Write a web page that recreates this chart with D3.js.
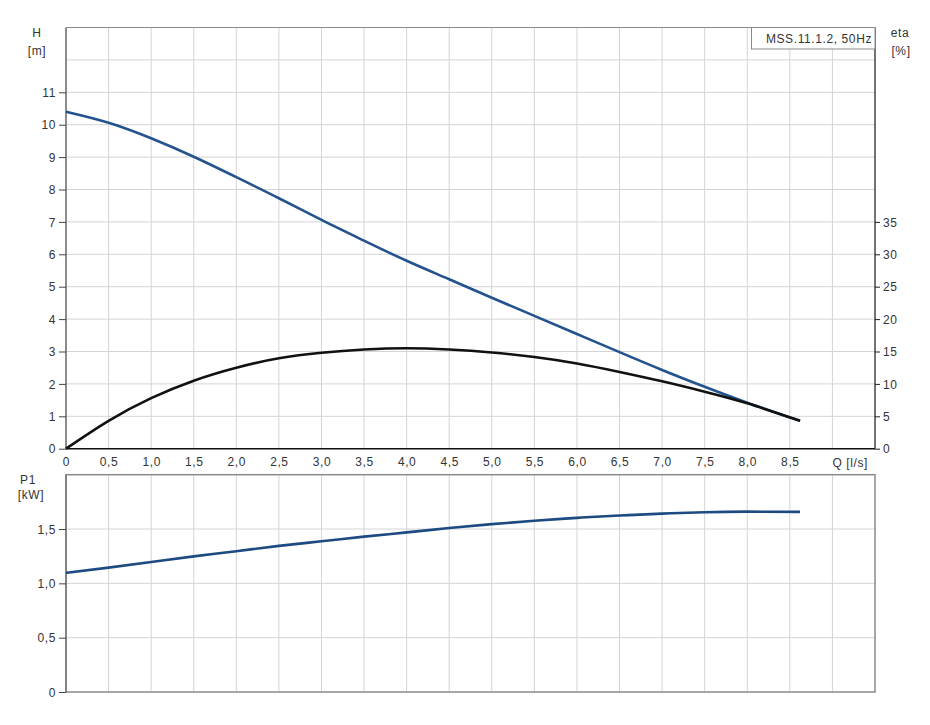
<!DOCTYPE html>
<html><head><meta charset="utf-8">
<script src="https://cdn.jsdelivr.net/npm/d3@7"></script>
<style>
html,body{margin:0;padding:0;background:#fff;}
svg text{font-family:"Liberation Sans",Arial,sans-serif;font-size:12px;fill:#333;letter-spacing:0.6px;}
</style></head><body>
<svg id="c" width="930" height="725"></svg>
<script>
// Data
const flowQ   = [0,0.5,1,1.5,2,2.5,3,3.5,4,4.5,5,5.5,6,6.5,7,7.5,8,8.62];
const headH   = [10.40,10.06,9.58,9.01,8.38,7.73,7.06,6.42,5.80,5.23,4.66,4.10,3.54,2.98,2.43,1.91,1.42,0.86];
const etaPct  = [0,4.3,7.8,10.5,12.5,13.95,14.8,15.3,15.5,15.3,14.85,14.15,13.15,11.85,10.4,8.8,7.0,4.3];
const powerP1 = [1.096,1.145,1.196,1.248,1.296,1.345,1.387,1.43,1.469,1.509,1.545,1.576,1.603,1.624,1.642,1.655,1.66,1.658];
const qTicks  = [0,0.5,1,1.5,2,2.5,3,3.5,4,4.5,5,5.5,6,6.5,7,7.5,8,8.5];
const qTickLabels = ["0","0,5","1,0","1,5","2,0","2,5","3,0","3,5","4,0","4,5","5,0","5,5","6,0","6,5","7,0","7,5","8,0","8,5"];
const hTicks  = [0,1,2,3,4,5,6,7,8,9,10,11];
const etaTicks = [0,5,10,15,20,25,30,35];
const p1Ticks = [0,0.5,1.0,1.5];
const p1TickLabels = ["0","0,5","1,0","1,5"];
const title = "MSS.11.1.2, 50Hz";

const svg = d3.select("#c");
const L = 66, R = 875;
const x = d3.scaleLinear().domain([0,9.5]).range([L,R]);
const yH = d3.scaleLinear().domain([0,13]).range([448.7,27.5]);
const yE = d3.scaleLinear().domain([0,65]).range([448.7,27.5]);
const yP = d3.scaleLinear().domain([0,2]).range([692,474.7]);

const gridX = d3.range(1,19).map(i=>i*0.5);
const gridCol = "#d4d4d4";

// ---- Top panel grid
const topG = svg.append("g");
topG.selectAll(".gx").data(gridX).join("line")
  .attr("x1",d=>x(d)).attr("x2",d=>x(d)).attr("y1",yH(13)).attr("y2",yH(0))
  .attr("stroke",gridCol).attr("stroke-width",1);
topG.selectAll(".gy").data(d3.range(1,13)).join("line")
  .attr("x1",L).attr("x2",R).attr("y1",d=>yH(d)).attr("y2",d=>yH(d))
  .attr("stroke",gridCol).attr("stroke-width",1);
// frame
topG.append("line").attr("x1",L).attr("x2",R).attr("y1",yH(13)).attr("y2",yH(13)).attr("stroke","#8a8a8a");
topG.append("line").attr("x1",L).attr("x2",L).attr("y1",yH(13)).attr("y2",yH(0)).attr("stroke","#666").attr("stroke-width",1.5);
topG.append("line").attr("x1",R).attr("x2",R).attr("y1",yH(13)).attr("y2",yH(0)).attr("stroke","#444").attr("stroke-width",1.5);
topG.append("line").attr("x1",L).attr("x2",R).attr("y1",yH(0)).attr("y2",yH(0)).attr("stroke","#111").attr("stroke-width",1.5);

// left axis H
const axH = d3.axisLeft(yH).tickValues(hTicks).tickSize(7).tickPadding(3).tickFormat(d3.format("d"));
const gH = svg.append("g").attr("transform",`translate(${L},0)`).call(axH);
gH.select(".domain").remove();
gH.selectAll(".tick line").attr("stroke","#444");
gH.selectAll("text").attr("dy","0.35em");

// right axis eta
const axE = d3.axisRight(yE).tickValues(etaTicks).tickSize(5).tickPadding(3).tickFormat(d3.format("d"));
const gE = svg.append("g").attr("transform",`translate(${R},0)`).call(axE);
gE.select(".domain").remove();
gE.selectAll(".tick line").attr("stroke","#222");
gE.selectAll("text").attr("dy","0.35em");

// x axis labels
const axQ = d3.axisBottom(x).tickValues(qTicks).tickSize(0).tickPadding(9).tickFormat((d,i)=>qTickLabels[i]);
const gQ = svg.append("g").attr("transform",`translate(0,${yH(0)})`).call(axQ);
gQ.select(".domain").remove();
svg.append("text").attr("x",x(9.0)).attr("y",yH(0)+18).attr("text-anchor","start").text("Q [l/s]");

// axis titles
svg.append("text").attr("x",37).attr("y",37).attr("text-anchor","middle").text("H");
svg.append("text").attr("x",37).attr("y",55).attr("text-anchor","middle").text("[m]");
svg.append("text").attr("x",900).attr("y",37).attr("text-anchor","middle").text("eta");
svg.append("text").attr("x",901).attr("y",55).attr("text-anchor","middle").text("[%]");

// legend box
const lg = svg.append("g");
lg.append("rect").attr("x",751.5).attr("y",27.5).attr("width",R-751.5).attr("height",21.5)
  .attr("fill","#fff").attr("stroke","#8a8a8a");
lg.append("text").attr("x",R-3).attr("y",43).attr("text-anchor","end").text(title);

// curves
const lineH = d3.line().x((d,i)=>x(flowQ[i])).y(d=>yH(d)).curve(d3.curveNatural);
const lineE = d3.line().x((d,i)=>x(flowQ[i])).y(d=>yE(d)).curve(d3.curveNatural);
const lineP = d3.line().x((d,i)=>x(flowQ[i])).y(d=>yP(d)).curve(d3.curveNatural);
svg.append("path").datum(headH).attr("d",lineH).attr("fill","none")
  .attr("stroke","#23528e").attr("stroke-width",2.6);
svg.append("path").datum(etaPct).attr("d",lineE).attr("fill","none")
  .attr("stroke","#111").attr("stroke-width",2.6);

// ---- Bottom panel
const botG = svg.append("g");
botG.selectAll(".gx").data(gridX).join("line")
  .attr("x1",d=>x(d)).attr("x2",d=>x(d)).attr("y1",yP(2)).attr("y2",yP(0))
  .attr("stroke",gridCol).attr("stroke-width",1);
botG.selectAll(".gy").data([0.5,1.0,1.5]).join("line")
  .attr("x1",L).attr("x2",R).attr("y1",d=>yP(d)).attr("y2",d=>yP(d))
  .attr("stroke",gridCol).attr("stroke-width",1);
botG.append("rect").attr("x",L).attr("y",yP(2)).attr("width",R-L).attr("height",yP(0)-yP(2))
  .attr("fill","none").attr("stroke","#8a8a8a").attr("stroke-width",1.5);
botG.append("line").attr("x1",L).attr("x2",L).attr("y1",yP(2)).attr("y2",yP(0)).attr("stroke","#777").attr("stroke-width",1.5);

const axP = d3.axisLeft(yP).tickValues(p1Ticks).tickSize(7).tickPadding(3).tickFormat((d,i)=>p1TickLabels[i]);
const gP = svg.append("g").attr("transform",`translate(${L},0)`).call(axP);
gP.select(".domain").remove();
gP.selectAll(".tick line").attr("stroke","#444");
gP.selectAll("text").attr("dy","0.35em");

svg.append("text").attr("x",28).attr("y",484).attr("text-anchor","middle").text("P1");
svg.append("text").attr("x",31).attr("y",499).attr("text-anchor","middle").text("[kW]");

svg.append("path").datum(powerP1).attr("d",lineP).attr("fill","none")
  .attr("stroke","#1d4a80").attr("stroke-width",2.6);
</script>
</body></html>
